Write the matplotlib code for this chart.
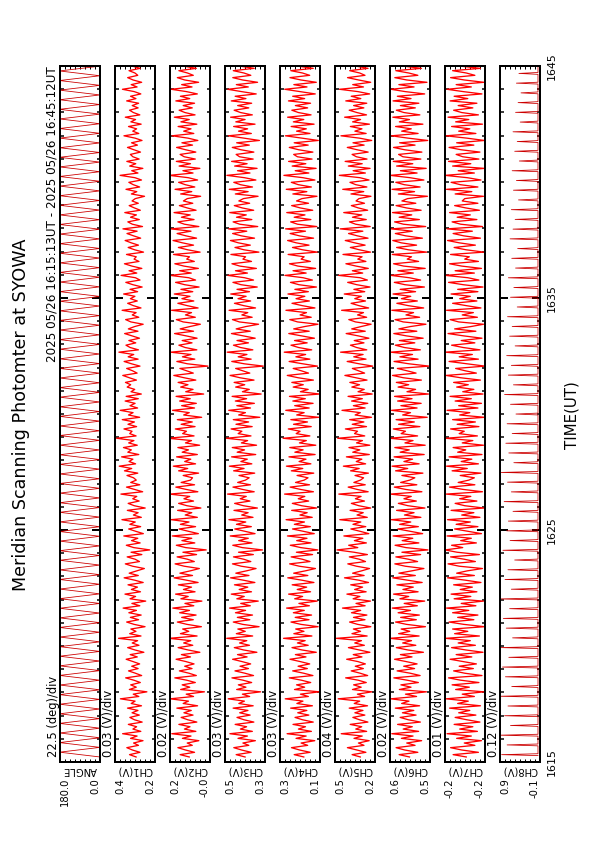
import numpy as np
import matplotlib.pyplot as plt
from matplotlib.transforms import blended_transform_factory

# ---- data ----
T_START = 13 / 60.0          # minutes after 16:15 (16:15:13UT)
T_END = 30 + 12 / 60.0       # 16:45:12UT

# scanner angle: alternating sweeps 0 <-> 180 deg
ANGLE_TURNS = [0.0, 180.0] * 73

CH1_MV = [
    312, 351, 289, 334, 367, 298, 327, 271, 345, 306, 392, 284, 331, 309, 358, 276, 322, 349, 293, 336,
    301, 363, 280, 341, 318, 405, 296, 329, 248, 352, 311, 344, 287, 325, 374, 279, 316, 357, 300, 338,
    291, 330, 371, 305, 347, 266, 319, 362, 295, 335, 303, 416, 283, 350, 313, 343, 259, 324, 368, 297,
    346, 282, 355, 310, 389, 290, 337, 255, 348, 315, 378, 286, 340, 304, 360, 270, 321, 383, 299, 353,
    307, 263, 333, 376, 292, 318, 365, 278, 342, 231, 326, 370, 288, 339, 302, 385, 269, 314, 356, 285,
    349, 317, 396, 281, 328, 300, 364, 258, 323, 359, 294, 332, 308, 402, 273, 320, 369, 290, 344, 311,
    327, 366, 302, 381, 338, 412, 315, 354, 331, 398, 296, 361, 340, 387, 305, 356, 325, 428, 312, 350,
    336, 384, 309, 360, 322, 394, 291, 357, 330, 406, 303, 348, 318, 377, 299, 371, 281, 342, 320, 365,
    344, 375, 310, 352, 391, 306, 333, 368, 289, 339, 383, 300, 359, 326, 414, 298, 347, 372, 314, 355,
    292, 337, 380, 301, 358, 321, 270, 343, 374, 296, 335, 312, 395, 283, 328, 362, 305, 346, 319, 386,
    303, 348, 276, 331, 373, 289, 316, 401, 308, 354, 278, 337, 381, 295, 324, 311, 369, 268, 320, 359,
    298, 341, 377, 285, 327, 366, 306, 390, 274, 334, 361, 293, 345, 310, 379, 287, 322, 353, 299, 336,
    317, 262, 340, 308, 372, 291, 329, 355, 280, 319, 407, 301, 338, 272, 350, 314, 367, 294, 331, 346,
    286, 325, 363, 304, 339, 277, 318, 384, 296, 332, 309, 357, 282, 343, 315, 376, 290, 328, 351, 300,
    335, 297, 368, 313, 345, 284, 323, 393, 306, 341, 279, 330, 362, 302, 319, 354, 288, 337, 311, 347]
CH2_MV = [
    52, 88, 31, 67, 97, 40, 60, 14, 79, 45, 121, 26, 71, 49, 93, 22, 58, 84, 37, 73,
    44, 101, 19, 76, 55, 128, 35, 64, -8, 86, 50, 80, 28, 62, 109, 24, 53, 91, 41, 70,
    33, 65, 104, 47, 83, 10, 57, 96, 38, 74, 46, 132, 21, 87, 54, 78, 4, 61, 99, 36,
    82, 25, 90, 51, 117, 34, 69, 2, 85, 56, 106, 29, 75, 43, 95, 17, 63, 112, 39, 89,
    48, 12, 72, 108, 32, 59, 100, 23, 77, -15, 66, 103, 30, 81, 42, 119, 16, 55, 92, 27,
    87, 53, 124, 20, 68, 42, 98, 6, 61, 94, 35, 73, 50, 130, 18, 64, 105, 31, 84, 47,
    39, 76, 15, 94, 58, 115, 27, 70, 46, 102, 20, 80, 55, 97, 11, 67, 43, 136, 33, 78,
    63, 107, 29, 84, 40, 99, 3, 74, 52, 118, 31, 82, 24, 90, 48, 104, -5, 66, 37, 86,
    57, 96, 26, 72, 113, 36, 62, 89, -22, 59, 101, 30, 79, 45, 126, 22, 68, 93, 41, 80,
    21, 64, 110, 35, 88, 50, 8, 76, 103, 28, 67, 43, 122, 17, 60, 97, 34, 81, 49, 111,
    38, 85, 13, 70, 106, 27, 54, 127, 44, 90, 16, 73, 109, 32, 62, 51, 114, 9, 58, 95,
    35, 79, 116, 23, 65, 100, 45, 125, 14, 71, 97, 33, 83, 48, 112, 25, 60, 91, 38, 75,
    60, 7, 86, 42, 108, 30, 68, 94, 19, 56, 131, 37, 77, 10, 92, 47, 103, 28, 72, 88,
    26, 66, 102, 39, 81, 18, 57, 120, 34, 74, 45, 96, 22, 85, 52, 111, 29, 69, 92, 40,
    76, 31, 105, 50, 87, 20, 63, 123, 41, 82, 15, 70, 99, 36, 59, 93, 24, 78, 46, 89]
CH3_MV = [
    388, 441, 352, 409, 455, 366, 401, 327, 430, 374, 478, 345, 416, 379, 447, 336, 395, 436, 358, 420,
    371, 459, 340, 425, 392, 488, 361, 404, 296, 438, 383, 428, 349, 400, 466, 338, 389, 448, 368, 418,
    355, 406, 462, 376, 433, 318, 397, 452, 362, 421, 378, 497, 343, 440, 387, 431, 305, 402, 458, 360,
    434, 344, 445, 385, 480, 357, 414, 310, 437, 393, 470, 350, 423, 372, 451, 330, 399, 474, 365, 443,
    380, 323, 411, 463, 354, 396, 457, 339, 427, 285, 405, 461, 347, 426, 369, 476, 329, 390, 449, 351,
    439, 384, 484, 341, 408, 370, 454, 315, 398, 450, 359, 417, 381, 492, 334, 403, 460, 356, 432, 386,
    364, 424, 331, 456, 394, 481, 348, 413, 375, 468, 325, 435, 391, 464, 320, 410, 373, 500, 353, 429,
    407, 471, 346, 442, 367, 458, 301, 426, 386, 485, 356, 437, 333, 446, 379, 465, 293, 404, 363, 444,
    390, 453, 335, 418, 477, 360, 402, 444, 280, 393, 467, 352, 429, 377, 494, 342, 415, 457, 368, 436,
    328, 400, 469, 357, 441, 384, 308, 422, 463, 346, 407, 372, 483, 326, 396, 451, 355, 430, 382, 473,
    362, 436, 316, 412, 460, 338, 391, 490, 374, 445, 321, 419, 466, 350, 401, 385, 472, 306, 394, 448,
    357, 428, 475, 332, 410, 462, 378, 486, 313, 420, 459, 348, 439, 381, 479, 337, 405, 452, 361, 425,
    398, 311, 446, 370, 482, 344, 416, 455, 324, 392, 496, 359, 433, 317, 450, 376, 468, 340, 421, 441,
    336, 412, 464, 363, 438, 303, 397, 487, 351, 427, 373, 456, 329, 443, 388, 474, 345, 415, 453, 366,
    432, 349, 470, 383, 447, 322, 409, 491, 369, 440, 314, 403, 461, 354, 395, 458, 334, 424, 377, 449]
CH4_MV = [
    176, 233, 138, 201, 249, 153, 192, 111, 222, 162, 275, 131, 208, 166, 240, 120, 184, 228, 146, 212,
    158, 254, 125, 217, 181, 286, 149, 196, 84, 231, 171, 219, 135, 190, 262, 122, 177, 242, 155, 210,
    141, 197, 258, 163, 226, 102, 187, 246, 150, 214, 168, 296, 128, 235, 175, 224, 91, 193, 252, 145,
    227, 130, 238, 173, 278, 143, 205, 97, 230, 183, 266, 136, 215, 159, 245, 116, 188, 271, 152, 236,
    167, 107, 203, 260, 139, 185, 251, 124, 220, 93, 194, 256, 133, 218, 157, 273, 114, 179, 243, 137,
    232, 172, 281, 126, 199, 156, 248, 100, 189, 244, 147, 209, 170, 290, 119, 195, 257, 142, 225, 174,
    151, 216, 117, 250, 182, 279, 134, 204, 163, 264, 109, 229, 180, 259, 105, 202, 161, 299, 140, 221,
    198, 268, 132, 237, 154, 253, 87, 218, 174, 283, 144, 230, 121, 241, 167, 261, 82, 196, 150, 239,
    179, 247, 119, 209, 274, 148, 191, 239, 95, 182, 263, 140, 223, 165, 292, 129, 207, 252, 156, 231,
    113, 190, 265, 144, 236, 172, 92, 213, 259, 132, 198, 160, 282, 110, 185, 246, 143, 222, 170, 270,
    149, 229, 101, 205, 255, 125, 180, 288, 162, 240, 106, 211, 261, 137, 192, 174, 269, 96, 183, 243,
    145, 221, 272, 118, 202, 257, 166, 284, 99, 213, 254, 134, 233, 169, 277, 123, 197, 248, 148, 219,
    187, 98, 241, 158, 280, 131, 209, 250, 110, 181, 294, 146, 227, 103, 245, 164, 266, 127, 214, 236,
    122, 206, 262, 150, 233, 90, 186, 285, 139, 219, 161, 251, 115, 238, 176, 272, 133, 208, 247, 153,
    226, 136, 267, 171, 242, 108, 200, 289, 157, 235, 102, 193, 258, 141, 184, 253, 120, 217, 165, 244]
CH5_MV = [
    296, 361, 252, 323, 398, 267, 311, 226, 346, 281, 447, 246, 332, 285, 376, 236, 303, 355, 260, 339,
    275, 384, 239, 344, 301, 471, 262, 319, 205, 358, 289, 349, 249, 313, 412, 238, 297, 368, 272, 336,
    256, 315, 404, 283, 352, 220, 306, 390, 264, 340, 287, 486, 242, 362, 294, 351, 213, 317, 381, 259,
    350, 244, 366, 293, 437, 258, 330, 216, 353, 299, 402, 250, 341, 278, 372, 231, 309, 421, 266, 357,
    286, 223, 327, 395, 255, 304, 383, 240, 345, 480, 316, 388, 248, 343, 276, 426, 229, 298, 371, 253,
    354, 292, 458, 241, 322, 273, 377, 214, 308, 367, 263, 335, 290, 466, 234, 321, 392, 257, 347, 295,
    270, 338, 232, 373, 305, 430, 254, 328, 284, 406, 225, 356, 300, 386, 221, 326, 279, 475, 261, 342,
    318, 414, 247, 360, 268, 380, 208, 337, 296, 441, 258, 351, 237, 365, 280, 393, 202, 314, 265, 363,
    302, 379, 243, 331, 418, 262, 310, 359, 198, 305, 400, 251, 348, 274, 452, 245, 325, 374, 267, 344,
    228, 312, 408, 257, 364, 291, 211, 334, 387, 246, 318, 271, 444, 230, 307, 369, 255, 340, 288, 423,
    261, 347, 219, 324, 396, 240, 297, 468, 277, 359, 233, 329, 410, 252, 316, 282, 433, 215, 303, 375,
    258, 341, 415, 235, 319, 389, 276, 455, 218, 333, 382, 249, 358, 284, 427, 238, 312, 367, 263, 330,
    307, 212, 370, 269, 435, 244, 332, 378, 227, 299, 462, 256, 353, 219, 391, 281, 416, 243, 327, 361,
    234, 321, 399, 266, 354, 206, 303, 449, 250, 339, 283, 375, 224, 357, 294, 420, 247, 323, 384, 268,
    349, 245, 411, 292, 368, 222, 315, 461, 271, 356, 214, 310, 397, 259, 301, 380, 235, 336, 278, 366]
CH6_MV = [
    541, 582, 508, 560, 594, 519, 552, 493, 573, 527, 611, 505, 566, 530, 588, 498, 546, 578, 515, 569,
    524, 597, 501, 572, 543, 615, 513, 557, 474, 581, 535, 575, 506, 550, 603, 499, 538, 590, 521, 564,
    511, 554, 600, 531, 577, 486, 548, 593, 516, 568, 533, 618, 503, 584, 540, 574, 478, 553, 596, 514,
    576, 502, 586, 537, 609, 510, 562, 481, 579, 544, 604, 507, 567, 526, 591, 491, 549, 607, 518, 583,
    532, 484, 558, 599, 509, 545, 595, 497, 571, 468, 555, 598, 504, 570, 528, 606, 489, 539, 587, 506,
    580, 536, 613, 496, 561, 523, 592, 480, 547, 585, 514, 563, 534, 617, 492, 556, 601, 512, 576, 540,
    520, 571, 488, 596, 548, 610, 503, 563, 529, 602, 483, 578, 542, 599, 479, 559, 527, 619, 509, 574,
    557, 605, 500, 584, 522, 594, 471, 568, 537, 612, 511, 575, 495, 588, 531, 600, 466, 551, 517, 586,
    544, 593, 494, 565, 608, 515, 551, 589, 463, 543, 602, 507, 579, 529, 616, 498, 561, 597, 520, 581,
    487, 553, 603, 512, 583, 538, 476, 566, 598, 501, 555, 525, 611, 485, 546, 591, 510, 573, 536, 606,
    517, 578, 482, 559, 601, 497, 542, 614, 526, 587, 479, 564, 604, 505, 550, 533, 609, 473, 545, 592,
    513, 574, 607, 490, 556, 597, 530, 613, 477, 565, 600, 502, 582, 532, 608, 495, 553, 594, 516, 571,
    549, 470, 585, 521, 610, 499, 562, 595, 484, 539, 617, 511, 577, 475, 592, 528, 605, 496, 567, 584,
    492, 560, 604, 519, 580, 469, 547, 612, 507, 572, 534, 596, 488, 581, 541, 607, 500, 563, 593, 518,
    577, 504, 606, 535, 589, 481, 558, 614, 523, 583, 472, 552, 599, 508, 544, 595, 494, 570, 531, 589]
CH7_MV = [
    -203, -177, -227, -194, -172, -220, -199, -233, -184, -213, -165, -225, -190, -216, -179, -230, -204, -181, -222, -188,
    -210, -170, -231, -186, -207, -163, -219, -195, -238, -182, -209, -175, -228, -192, -168, -234, -200, -178, -217, -189,
    -223, -197, -171, -214, -183, -236, -202, -174, -221, -187, -211, -162, -229, -180, -206, -176, -239, -198, -169, -218,
    -186, -226, -176, -208, -164, -222, -193, -237, -179, -212, -173, -224, -191, -215, -178, -232, -201, -166, -219, -184,
    -205, -235, -189, -167, -221, -199, -172, -229, -185, -161, -196, -174, -223, -192, -213, -165, -233, -206, -180, -226,
    -183, -211, -166, -230, -194, -218, -173, -238, -200, -181, -224, -190, -212, -163, -235, -197, -170, -220, -187, -208,
    -219, -191, -232, -175, -205, -164, -227, -193, -214, -169, -234, -186, -202, -177, -237, -195, -216, -162, -225, -189,
    -199, -172, -228, -185, -221, -176, -239, -190, -210, -165, -226, -188, -233, -181, -213, -171, -236, -196, -218, -184,
    -207, -178, -231, -192, -163, -223, -201, -182, -240, -204, -169, -227, -189, -215, -161, -230, -197, -174, -220, -193,
    -234, -198, -167, -222, -180, -212, -237, -188, -171, -225, -195, -217, -164, -232, -203, -176, -224, -190, -211, -173,
    -226, -186, -236, -197, -168, -228, -206, -162, -219, -181, -233, -194, -170, -227, -200, -209, -172, -238, -203, -179,
    -221, -189, -166, -231, -198, -177, -215, -165, -235, -192, -175, -224, -185, -211, -170, -229, -202, -180, -226, -195,
    -200, -237, -181, -214, -164, -226, -191, -173, -232, -205, -161, -219, -187, -239, -176, -212, -168, -228, -196, -183,
    -230, -193, -169, -218, -184, -239, -204, -163, -222, -188, -210, -174, -235, -182, -208, -167, -227, -194, -178, -216,
    -187, -224, -171, -206, -179, -234, -197, -165, -213, -183, -238, -199, -172, -220, -203, -176, -231, -189, -215, -182]
# CH8: flat baseline with one spike per scan
CH8_BASE_MV = -12
CH8_PEAK_MV = [
    850, 720, 900, 640, 780, 700, 890, 610, 760, 830, 680, 870,
    590, 740, 810, 660, 900, 620, 770, 700, 540, 820, 650, 730,
    690, 580, 790, 620, 710, 860, 560, 680, 750, 600, 720, 510,
    640, 780, 570, 690, 620, 730, 530, 660, 600, 710, 480, 640,
    560, 690, 520, 610, 470, 650, 580, 530, 620, 450, 570, 500,
    600, 430, 540, 480, 580, 410, 520, 460, 390, 500, 440, 370]

PANEL_NAMES = ["ANGLE", "CH1(V)", "CH2(V)", "CH3(V)", "CH4(V)", "CH5(V)", "CH6(V)", "CH7(V)", "CH8(V)"]
RANGE_LO = [0.0, 0.20, -0.03, 0.27, 0.08, 0.18, 0.46, -0.24, -0.06]
PER_DIV = [22.5, 0.03, 0.02, 0.03, 0.03, 0.04, 0.02, 0.01, 0.12]
DIV_TEXT = ["22.5 (deg)/div", "0.03 (V)/div", "0.02 (V)/div", "0.03 (V)/div", "0.03 (V)/div",
            "0.04 (V)/div", "0.02 (V)/div", "0.01 (V)/div", "0.12 (V)/div"]
HI_TEXT = ["180.0", "0.4", "0.2", "0.5", "0.3", "0.5", "0.6", "-0.2", "0.9"]
LO_TEXT = ["0.0", "0.2", "-0.0", "0.3", "0.1", "0.2", "0.5", "-0.2", "-0.1"]
TIME_TICKS = [0, 10, 20, 30]
TIME_LABELS = ["1615", "1625", "1635", "1645"]

# ---- build series ----
t_noise = np.linspace(T_START, T_END, len(CH1_MV))
t_ang = np.linspace(T_START, T_END, len(ANGLE_TURNS))
t8 = np.linspace(T_START + 0.1, T_END - 0.1, len(CH8_PEAK_MV))
t8_full = (t8[:, None] + np.array([-0.04, 0.0, 0.04])).ravel()
v8_full = np.column_stack([np.full(len(t8), CH8_BASE_MV), CH8_PEAK_MV,
                           np.full(len(t8), CH8_BASE_MV)]).ravel() / 1000.0

series = [(t_ang, np.array(ANGLE_TURNS))]
for mv in [CH1_MV, CH2_MV, CH3_MV, CH4_MV, CH5_MV, CH6_MV, CH7_MV]:
    series.append((t_noise, np.array(mv) / 1000.0))
series.append((t8_full, v8_full))

# ---- layout (pixels of a 595x842 page) ----
W, H = 595, 842
TOP, BOT = 66, 762
LEFT0, STEP, PW = 59.5, 55, 40.5

fig = plt.figure(figsize=(W / 72, H / 72), dpi=72)
plt.rcParams['font.family'] = 'DejaVu Sans'


def fx(px):
    return px / W


def fy(py):
    return 1 - py / H


axes = []
for i, name in enumerate(PANEL_NAMES):
    left = LEFT0 + STEP * i
    ax = fig.add_axes([fx(left), fy(BOT), PW / W, (BOT - TOP) / H])
    lo = RANGE_LO[i]
    hi = lo + 8 * PER_DIV[i]
    t, v = series[i]
    if i in (0, 8):
        ax.plot(v, t, color='#cc0000', lw=0.8)
    else:
        ax.plot(v, t, color='#ff0000', lw=1.3)
    ax.set_xlim(hi, lo)
    ax.set_ylim(0, 30)
    ax.set_xticks(lo + PER_DIV[i] * np.arange(9))
    ax.tick_params(axis='x', which='both', direction='in', top=True, bottom=True,
                   length=3, width=1, labelbottom=False)
    ax.set_yticks(TIME_TICKS)
    ax.set_yticks(np.arange(31), minor=True)
    ax.tick_params(axis='y', which='major', direction='in', left=True, right=True,
                   length=8, width=2, labelleft=False)
    ax.tick_params(axis='y', which='minor', direction='in', left=True, right=True,
                   length=3.5, width=1.5)
    for sp in ax.spines.values():
        sp.set_linewidth(2)
        sp.set_zorder(3)

    fig.text(fx(left - 6.5), fy(757), DIV_TEXT[i], rotation=90, ha='center', va='bottom', fontsize=11.5)
    fig.text(fx(left + PW / 2), fy(765), name, rotation=180, ha='center', va='top', fontsize=10)
    fig.text(fx(left + 0.5), fy(778), HI_TEXT[i], rotation=90, ha='left', va='top', fontsize=10)
    fig.text(fx(left + PW), fy(778), LO_TEXT[i], rotation=90, ha='right', va='top', fontsize=10)
    axes.append(ax)

trans = blended_transform_factory(fig.transFigure, axes[-1].transData)
for m, lab in zip(TIME_TICKS, TIME_LABELS):
    fig.text(fx(547), m, lab, rotation=90, ha='left', va='center', fontsize=11, transform=trans)

fig.text(fx(21), fy(415), "Meridian Scanning Photomter at SYOWA", rotation=90,
         ha='center', va='center', fontsize=17.5)
fig.text(fx(52.5), fy(TOP), "2025 05/26 16:15:13UT - 2025 05/26 16:45:12UT", rotation=90,
         ha='center', va='top', fontsize=12)
fig.text(fx(572), fy(415), "TIME(UT)", rotation=90, ha='center', va='center', fontsize=15)

fig.savefig("out.png", dpi=72)
